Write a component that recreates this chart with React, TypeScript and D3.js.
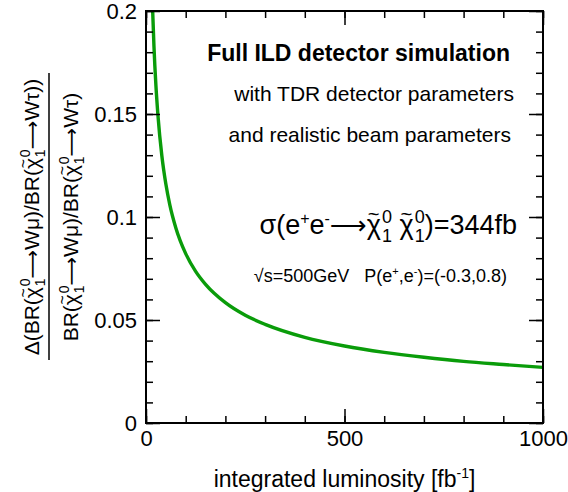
import { useEffect, useRef, type ReactNode } from 'react';
import * as d3 from 'd3';

// values
const lumi = [16.5, 20, 25, 30, 40, 50, 60, 75, 100, 125, 150, 200, 250, 300, 400, 500, 600, 700, 800, 900, 1000];
const relErr = [0.2016, 0.1831, 0.1638, 0.1496, 0.1296, 0.116, 0.1059, 0.0948, 0.0822, 0.0736, 0.0673, 0.0584, 0.0523, 0.0479, 0.0416, 0.0374, 0.0343, 0.0319, 0.0299, 0.0284, 0.027];

const xMajor = [0, 500, 1000];
const yMajor = [0, 0.05, 0.1, 0.15, 0.2];

const W = 568;
const H = 492;
const FONT = '"Liberation Sans", Arial, Helvetica, sans-serif';

// chi with a tilde on top and stacked 0 / 1 scripts; tail goes back on the baseline
function Chi({ fs, tail }: { fs: number; tail: ReactNode }) {
  const s = Math.round(fs * 0.66);
  return (
    <>
      <tspan>χ</tspan>
      <tspan dx={-0.49 * fs} dy={-0.47 * fs} fontSize={0.75 * fs}>~</tspan>
      <tspan dx={0.09 * fs} dy={0.05 * fs} fontSize={s}>0</tspan>
      <tspan dx={-s * 0.556} dy={fs * 0.72} fontSize={s}>1</tspan>
      <tspan dy={-0.3 * fs}>{tail}</tspan>
    </>
  );
}

function Arrow({ fs }: { fs: number }) {
  return <tspan fontFamily="DejaVu Sans" fontSize={fs * 0.95}>⟶</tspan>;
}

export default function App() {
  const gRef = useRef<SVGGElement>(null);

  const margin = { top: 11, right: 25, bottom: 69, left: 146 };
  const x = d3.scaleLinear().domain([0, 1000]).range([margin.left, W - margin.right]);
  const y = d3.scaleLinear().domain([0, 0.2]).range([H - margin.bottom, margin.top]);

  useEffect(() => {
    if (!gRef.current) return;
    const g = d3.select(gRef.current);
    g.selectAll('*').remove();

    const x0 = x.range()[0], x1 = x.range()[1];
    const y0 = y.range()[0], y1 = y.range()[1];

    g.append('clipPath').attr('id', 'plotclip')
      .append('rect').attr('x', x0).attr('y', y1).attr('width', x1 - x0).attr('height', y0 - y1);

    // curve
    const line = d3.line<number>()
      .x((_, i) => x(lumi[i]))
      .y(d => y(d))
      .curve(d3.curveMonotoneX);

    g.append('path')
      .datum(relErr)
      .attr('clip-path', 'url(#plotclip)')
      .attr('d', line)
      .attr('fill', 'none')
      .attr('stroke', '#0a9c0a')
      .attr('stroke-width', 3.4);

    const style = (sel: d3.Selection<SVGGElement, unknown, null, undefined>) => {
      sel.select('.domain').remove();
      sel.selectAll('line').attr('stroke', '#000').attr('stroke-width', 1.5);
      sel.selectAll('text').attr('fill', '#000').style('font-family', FONT).style('font-size', '22px');
    };

    const fmt = (d: d3.NumberValue) => String(+(+d).toFixed(2));

    // minor ticks, all four sides
    const xMinor = x.ticks(10);
    const yMinor = y.ticks(20);

    g.append('g').attr('transform', `translate(0,${y0})`)
      .call(d3.axisBottom(x).tickValues(xMinor).tickSize(-7).tickFormat(() => '')).call(style);
    g.append('g').attr('transform', `translate(0,${y1})`)
      .call(d3.axisTop(x).tickValues(xMinor).tickSize(-7).tickFormat(() => '')).call(style);
    g.append('g').attr('transform', `translate(${x0},0)`)
      .call(d3.axisLeft(y).tickValues(yMinor).tickSize(-7).tickFormat(() => '')).call(style);
    g.append('g').attr('transform', `translate(${x1},0)`)
      .call(d3.axisRight(y).tickValues(yMinor).tickSize(-7).tickFormat(() => '')).call(style);

    // major ticks with labels
    g.append('g').attr('transform', `translate(0,${y0})`)
      .call(d3.axisBottom(x).tickValues(xMajor).tickSize(-14).tickPadding(7).tickFormat(fmt)).call(style);
    g.append('g').attr('transform', `translate(0,${y1})`)
      .call(d3.axisTop(x).tickValues(xMajor).tickSize(-14).tickFormat(() => '')).call(style);
    g.append('g').attr('transform', `translate(${x0},0)`)
      .call(d3.axisLeft(y).tickValues(yMajor).tickSize(-14).tickPadding(9).tickFormat(fmt)).call(style);
    g.append('g').attr('transform', `translate(${x1},0)`)
      .call(d3.axisRight(y).tickValues(yMajor).tickSize(-14).tickFormat(() => '')).call(style);

    // frame
    g.append('rect')
      .attr('x', x0).attr('y', y1)
      .attr('width', x1 - x0).attr('height', y0 - y1)
      .attr('fill', 'none').attr('stroke', '#000').attr('stroke-width', 2);
  }, []);

  const cx = (x.range()[0] + x.range()[1]) / 2;
  const cy = (y.range()[0] + y.range()[1]) / 2;
  const fy = 21;
  const fs = 27;

  return (
    <svg width={W} height={H} style={{ position: 'absolute', left: 0, top: 0, background: '#fff' }}
      fontFamily={FONT}>
      <g ref={gRef} />

      {/* legend text */}
      <text x={510} y={61} textAnchor="end" fontSize={23} fontWeight="bold">Full ILD detector simulation</text>
      <text x={514} y={101} textAnchor="end" fontSize={21}>with TDR detector parameters</text>
      <text x={511} y={142} textAnchor="end" fontSize={21}>and realistic beam parameters</text>

      <text x={517} y={234} textAnchor="end" fontSize={fs}>
        σ(e<tspan dy={-10} fontSize={16}>+</tspan><tspan dy={10}>e</tspan>
        <tspan dy={-10} fontSize={16}>-</tspan>
        <tspan dy={10}><Arrow fs={fs} /></tspan>
        <Chi fs={fs} tail={' '} />
        <Chi fs={fs} tail=")=344fb" />
      </text>

      <text x={507} y={282} textAnchor="end" fontSize={18}>
        √s=500GeV{'\u00a0\u00a0\u00a0'}P(e<tspan dy={-7} fontSize={11}>+</tspan>
        <tspan dy={7}>,e</tspan><tspan dy={-7} fontSize={11}>-</tspan>
        <tspan dy={7}>)=(-0.3,0.8)</tspan>
      </text>

      {/* x title */}
      <text x={cx} y={487} textAnchor="middle" fontSize={23}>
        integrated luminosity [fb<tspan dy={-9} fontSize={14}>-1</tspan><tspan dy={9}>]</tspan>
      </text>

      {/* y title: fraction */}
      <g transform={`translate(39,${cy}) rotate(-90)`}>
        <text x={0} y={0} textAnchor="middle" fontSize={fy}>
          Δ(BR(<Chi fs={fy} tail={<><Arrow fs={fy} />Wμ)/BR(</>} />
          <Chi fs={fy} tail={<><Arrow fs={fy} />Wτ))</>} />
        </text>
      </g>
      <line x1={49} x2={49} y1={73} y2={360} stroke="#000" strokeWidth={1.5} />
      <g transform={`translate(78,${cy}) rotate(-90)`}>
        <text x={0} y={0} textAnchor="middle" fontSize={fy}>
          BR(<Chi fs={fy} tail={<><Arrow fs={fy} />Wμ)/BR(</>} />
          <Chi fs={fy} tail={<><Arrow fs={fy} />Wτ)</>} />
        </text>
      </g>
    </svg>
  );
}
